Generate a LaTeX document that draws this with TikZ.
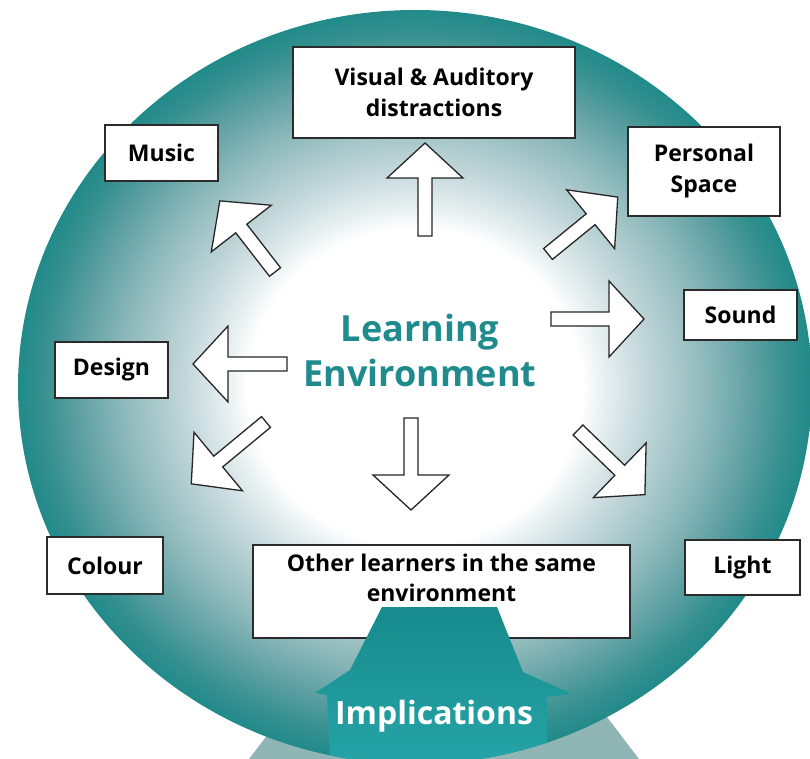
\documentclass[tikz,border=0pt]{standalone}
\usepackage{fontspec}
\setmainfont{Open Sans}
\usetikzlibrary{calc}
\definecolor{ringA}{HTML}{E6EFF0}
\definecolor{ringB}{HTML}{C3D7DA}
\definecolor{ringC}{HTML}{8CB8BA}
\definecolor{ringD}{HTML}{5A9EA0}
\definecolor{ringE}{HTML}{35908F}
\definecolor{ringF}{HTML}{218A8A}
\definecolor{pedestal}{HTML}{8FB6B4}
\definecolor{implTop}{HTML}{178B8D}
\definecolor{implBot}{HTML}{25A3A6}
\definecolor{titleTeal}{HTML}{1F8B8C}
\definecolor{boxLine}{HTML}{2B2B2B}
\pgfdeclareradialshading{ballshade}{\pgfpoint{0bp}{0bp}}{color(0bp)=(white); color(10.5bp)=(white); color(12bp)=(ringA); color(14.5bp)=(ringB); color(18.5bp)=(ringC); color(21.5bp)=(ringD); color(23.5bp)=(ringE); color(25bp)=(ringF); color(50bp)=(ringF)}
\tikzset{
  labelbox/.style={draw=boxLine, line width=1.8pt, fill=white, inner sep=0pt,
    font=\fontsize{23}{31}\selectfont\bfseries, align=center, text=black},
  arrowbody/.style={draw=black!85, line width=1.3pt, fill=white, line join=miter},
  pics/blkarrow/.style={code={\draw[arrowbody] (0,-7) -- ({#1-35},-7) -- ({#1-35},-38) -- (#1,0) -- ({#1-35},38) -- ({#1-35},7) -- (0,7) -- cycle;}}
}
\begin{document}
\begin{tikzpicture}[x=1pt, y=-1pt]
\useasboundingbox (0,0) rectangle (810,759);
% pedestal
\fill[pedestal] (294,700) -- (594,700) -- (639,759) -- (249,759) -- cycle;
% disc
\path[shading=ballshade] (415,387) ellipse [x radius=397pt, y radius=377pt];
% centre title
\node[font=\fontsize{36}{45}\selectfont\bfseries, text=titleTeal, align=center] (centre) at (420,350) {Learning\\Environment};
% arrows
\coordinate (t1) at (425,236);
\coordinate (t2) at (275,272);
\coordinate (t3) at (548,254);
\coordinate (t4) at (551,319);
\coordinate (t5) at (578,430);
\coordinate (t6) at (411,418);
\coordinate (t7) at (287,364);
\coordinate (t8) at (266,422);
\pic[rotate=90] at (t1) {blkarrow=93};
\pic[rotate=127.8] at (t2) {blkarrow=90};
\pic[rotate=39.2] at (t3) {blkarrow=90};
\pic[rotate=0] at (t4) {blkarrow=93};
\pic[rotate=-44] at (t5) {blkarrow=93};
\pic[rotate=-90] at (t6) {blkarrow=92};
\pic[rotate=180] at (t7) {blkarrow=94};
\pic[rotate=219.6] at (t8) {blkarrow=97};
% boxes
\node[labelbox, minimum width=282pt, minimum height=91pt] (visual) at (434,92.5) {Visual \& Auditory\\distractions};
\node[labelbox, minimum width=113pt, minimum height=56pt] (music) at (161.5,153) {Music};
\node[labelbox, minimum width=152pt, minimum height=89pt] (personal) at (704,171.5) {Personal\\Space};
\node[labelbox, minimum width=113pt, minimum height=50pt] (sound) at (740.5,315) {Sound};
\node[labelbox, minimum width=113pt, minimum height=56pt] (design) at (111.5,370) {Design};
\node[labelbox, minimum width=116pt, minimum height=57pt] (colour) at (105,565.5) {Colour};
\node[labelbox, minimum width=115pt, minimum height=55pt] (light) at (742.5,567.5) {Light};
\node[labelbox, minimum width=377pt, minimum height=93pt] (other) at (441.5,591.5) {};
\node[font=\fontsize{23}{30}\selectfont\bfseries, align=center, text=black] (othertext) at (441.5,578) {Other learners in the same\\environment};
% implications shape
\begin{scope}
\clip (415,387) ellipse [x radius=397pt, y radius=377pt];
\shade[top color=implTop, bottom color=implBot] (382,607) -- (497,607) -- (523,672) -- (572,694) -- (547,697) -- (547,760) -- (330,760) -- (327,695) -- (315,693) -- (350,670) -- cycle;
\end{scope}
\node[font=\fontsize{32}{36}\selectfont\bfseries, text=white] (impl) at (434,716) {Implications};
\end{tikzpicture}
\end{document}
